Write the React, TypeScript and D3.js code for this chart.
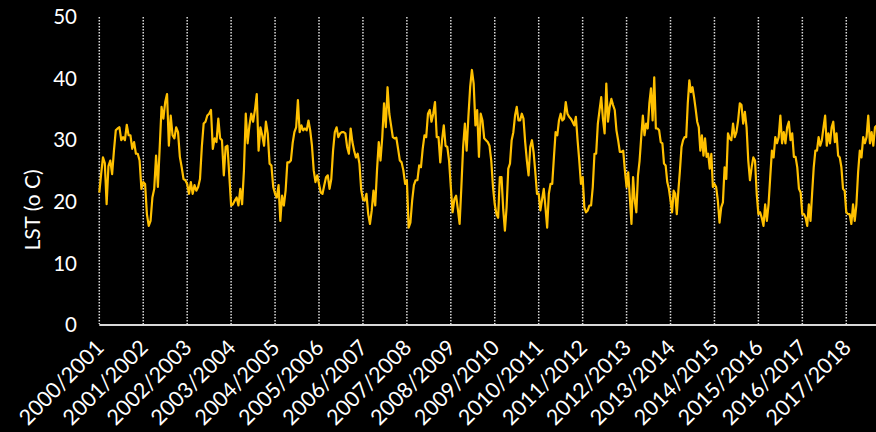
import React from "react";
import * as d3 from "d3";

const seasonLabels = [
  "2000/2001", "2001/2002", "2002/2003", "2003/2004", "2004/2005", "2005/2006",
  "2006/2007", "2007/2008", "2008/2009", "2009/2010", "2010/2011", "2011/2012",
  "2012/2013", "2013/2014", "2014/2015", "2015/2016", "2016/2017", "2017/2018",
];

const yTicks = [0, 10, 20, 30, 40, 50];

const lst2000 = [21.5,24.5,27.2,26.3,19.6,25.8,26.7,24.5,28.3,31.6,31.9,32.1,30.0,30.5,30.0,32.5,30.8,30.8,28.6,29.7,27.8,27.8,26.7,22.1];
const lst2001 = [23.2,22.9,18.0,16.1,16.9,20.7,22.1,27.5,22.4,28.9,35.4,33.5,36.2,37.5,29.1,34.0,30.8,30.3,32.1,31.3,27.3,25.6,23.7,23.5];
const lst2002 = [22.9,21.3,23.2,21.3,22.7,21.8,22.4,23.7,28.9,32.7,33.0,34.0,34.3,34.9,28.6,30.3,29.7,33.5,30.3,30.0,24.3,28.9,29.1,24.3];
const lst2003 = [19.4,19.6,20.2,20.7,19.4,22.1,19.6,25.1,34.3,29.5,32.4,34.3,33.0,34.9,37.5,28.3,32.1,30.8,29.1,33.0,31.1,26.2,25.9,22.4];
const lst2004 = [21.3,20.7,22.7,16.9,21.0,19.4,21.8,26.4,26.4,26.7,29.5,31.3,32.1,36.5,31.3,32.4,31.6,31.9,31.6,33.2,31.6,29.1,25.1,23.2,24.3];
const lst2005 = [22.9,21.5,21.3,22.7,24.0,24.3,22.1,23.7,28.3,31.3,32.1,30.5,31.1,31.3,31.3,31.1,28.9,27.8,31.9,29.7,28.3,27.2,27.8,26.2,22.0];
const lst2006 = [20.4,20.2,21.3,18.0,16.4,18.6,21.8,19.4,25.1,29.7,26.7,30.5,36.0,32.1,38.6,34.3,32.4,30.5,30.3,30.4,28.6,26.7,26.4,25.1,22.9];
const lst2007 = [23.5,15.8,16.6,20.2,22.7,23.5,23.5,25.9,25.6,28.6,30.8,30.5,34.3,34.9,33.0,34.3,36.2,30.5,30.5,26.4,30.0,32.4,29.1,28.9,26.7];
const lst2008 = [22.4,18.3,20.4,21.0,18.8,16.4,22.4,28.9,32.7,28.3,33.8,38.6,41.4,39.2,32.4,34.9,27.3,34.3,33.2,30.3,30.0,29.7,29.1,26.7,22.4];
const lst2009 = [19.6,18.0,17.4,24.0,24.0,18.8,15.3,19.1,25.4,26.2,30.0,31.3,34.0,35.4,33.2,33.2,34.3,33.5,29.7,26.7,24.3,28.9,30.0,28.0,24.8,21.3];
const lst2010 = [21.3,18.6,20.4,22.1,19.1,15.8,21.3,22.9,22.9,27.2,31.3,30.8,33.2,34.3,33.2,33.5,36.2,34.3,33.8,33.5,33.0,32.4,33.8,30.0,26.7,22.9];
const lst2011 = [24.0,19.1,18.3,18.6,19.4,19.4,22.4,27.8,27.8,32.7,34.9,37.0,33.5,31.1,39.2,33.0,35.4,36.7,35.7,34.9,31.6,30.0,28.1,28.1,28.3,25.1];
const lst2012 = [22.4,24.8,20.7,16.4,24.0,20.2,18.3,24.3,26.7,30.5,34.0,30.8,32.7,31.9,36.0,38.4,33.2,40.2,31.9,31.9,31.6,29.7,29.5,26.2,25.9,23.2,22.1];
const lst2013 = [20.2,18.3,21.8,21.3,18.0,21.8,25.1,28.9,30.0,30.5,30.5,36.0,39.7,37.8,38.6,37.0,35.1,33.0,32.1,28.3,30.8,27.5,30.3,27.3,27.8,25.4,27.8,22.4];
const lst2014 = [22.9,22.4,20.2,16.6,19.1,19.9,25.6,23.7,31.1,30.3,30.0,32.7,30.5,31.3,33.2,36.0,35.7,32.7,34.6,32.1,26.7,23.5,25.6,27.2,26.7,21.3];
const lst2015 = [18.0,18.3,17.4,16.1,19.6,16.9,19.6,24.0,28.3,27.2,30.5,29.5,30.5,34.0,29.5,31.3,29.5,32.1,33.0,30.0,31.1,27.3,27.3,25.6,22.1,21.5];
const lst2016 = [18.0,18.0,17.4,16.1,19.6,16.9,21.3,25.6,28.3,28.3,30.5,29.1,30.0,32.1,34.0,29.1,31.1,29.5,32.1,33.0,29.7,31.1,27.5,27.2,25.6,22.1,21.8];
const lst2017 = [18.3,18.0,18.0,16.4,19.6,16.9,19.6,24.8,28.3,27.2,30.5,29.5,30.5,34.0,29.5,31.3,29.1,32.1,32.4];

const seasonValues = [
  lst2000, lst2001, lst2002, lst2003, lst2004, lst2005, lst2006, lst2007, lst2008,
  lst2009, lst2010, lst2011, lst2012, lst2013, lst2014, lst2015, lst2016, lst2017,
];

// samples per full season used for the (incomplete) last season
const fullSeasonSamples = 26;

type Pt = { t: number; v: number };

export default function App() {
  const W = 876;
  const H = 432;
  const plotLeft = 99.3;
  const step = 43.94;
  const x = d3.scaleLinear().domain([0, seasonLabels.length]).range([plotLeft, plotLeft + step * seasonLabels.length]);
  const y = d3.scaleLinear().domain([0, 50]).range([325, 17]);

  const pts: Pt[] = [];
  seasonValues.forEach((vals, s) => {
    const n = s === seasonValues.length - 1 ? fullSeasonSamples : vals.length;
    vals.forEach((v, i) => pts.push({ t: s + i / n, v }));
  });

  const line = d3.line<Pt>().x((d) => x(d.t)).y((d) => y(d.v));
  const font = "Lato, 'Open Sans', sans-serif";

  return (
    <div style={{ position: "fixed", left: 0, top: 0 }}>
      <svg width={W} height={H} style={{ display: "block", background: "#000" }}>
        <rect x={0} y={0} width={W} height={H} fill="#000" />
        {seasonLabels.map((_, i) => (
          <line
            key={"v" + i}
            x1={x(i)}
            x2={x(i)}
            y1={y(50)}
            y2={y(0) - 1}
            stroke="#d9d9d9"
            strokeWidth={1.5}
            strokeDasharray="1.5 1.5"
          />
        ))}
        <line x1={x(0)} x2={W} y1={y(0)} y2={y(0)} stroke="#d9d9d9" strokeWidth={2} />
        <path d={line(pts) || ""} fill="none" stroke="#FFC000" strokeWidth={2.2} strokeLinejoin="round" />
        {yTicks.map((t) => (
          <text
            key={"y" + t}
            x={77}
            y={y(t)}
            dy="0.35em"
            textAnchor="end"
            fill="#fff"
            fontFamily={font}
            fontSize={20.5}
          >
            {t}
          </text>
        ))}
        <text
          transform={`translate(40,${210}) rotate(-90)`}
          textAnchor="middle"
          fill="#fff"
          fontFamily={font}
          fontSize={21}
        >
          LST (o C)
        </text>
        {seasonLabels.map((lab, i) => (
          <text
            key={"l" + i}
            transform={`translate(${x(i) + 6},${349}) rotate(-45)`}
            textAnchor="end"
            fill="#fff"
            fontFamily={font}
            fontSize={21.5}
          >
            {lab}
          </text>
        ))}
      </svg>
    </div>
  );
}
